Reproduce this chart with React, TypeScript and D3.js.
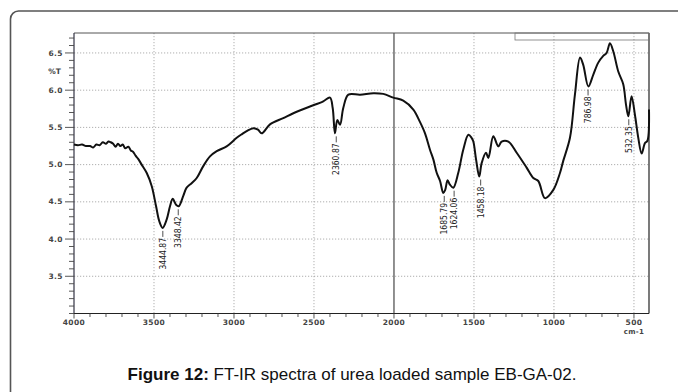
import React, { useEffect, useRef } from 'react';
import * as d3 from 'd3';

// traced spectrum (wavenumber in cm-1, %T)
const wavenumbers = [
  4000, 3975, 3950, 3925, 3900, 3880, 3860, 3840, 3820, 3800, 3785, 3770, 3755, 3740, 3725, 3710,
  3695, 3680, 3660, 3645, 3630, 3615, 3600, 3577, 3546, 3514, 3487, 3467, 3446, 3421, 3400, 3383,
  3362, 3346, 3317, 3296, 3265, 3233, 3192, 3150, 3108, 3046, 2983, 2950, 2921, 2879, 2850, 2827,
  2775, 2692, 2608, 2525, 2442, 2400, 2383, 2369, 2354, 2337, 2317, 2285, 2212, 2129, 2067, 2004,
  1942, 1879, 1837, 1806, 1775, 1754, 1733, 1712, 1692, 1680, 1665, 1650, 1629, 1598, 1567, 1535,
  1515, 1504, 1487, 1467, 1452, 1425, 1410, 1379, 1348, 1327, 1285, 1233, 1171, 1129, 1098, 1056,
  1004, 962, 942, 900, 869, 837, 817, 785, 754, 723, 692, 671, 650, 629, 598, 567, 550, 535, 515,
  494, 473, 452, 431, 416, 406,
];
const transmittance = [
  5.27, 5.26, 5.27, 5.25, 5.25, 5.23, 5.27, 5.26, 5.3, 5.28, 5.31, 5.3, 5.28, 5.24, 5.28, 5.25,
  5.27, 5.22, 5.24, 5.19, 5.17, 5.12, 5.08, 5.0, 4.89, 4.71, 4.44, 4.24, 4.15, 4.26, 4.44, 4.54,
  4.46, 4.44, 4.58, 4.69, 4.75, 4.82, 4.98, 5.11, 5.18, 5.245, 5.36, 5.41, 5.45, 5.49, 5.47, 5.42,
  5.54, 5.625, 5.71, 5.78, 5.85, 5.9, 5.76, 5.42, 5.6, 5.535, 5.76, 5.94, 5.94, 5.96, 5.95, 5.9,
  5.86, 5.74, 5.57, 5.42, 5.2, 5.07, 4.89, 4.78, 4.62, 4.66, 4.79, 4.73, 4.69, 4.89, 5.2, 5.4,
  5.36, 5.31, 5.07, 4.84, 5.02, 5.16, 5.09, 5.38, 5.245, 5.31, 5.31, 5.16, 4.96, 4.82, 4.78, 4.55,
  4.66, 4.89, 5.05, 5.36, 5.94, 6.44, 6.34, 6.05, 6.21, 6.37, 6.46, 6.5, 6.63, 6.52, 6.25, 6.08,
  5.81, 5.65, 5.92, 5.67, 5.36, 5.15, 5.29, 5.32, 5.74,
];

const peakWavenumbers = [3444.87, 3348.42, 2360.87, 1685.79, 1624.06, 1458.18, 786.98, 532.35];
const peakValues = [4.15, 4.44, 5.42, 4.62, 4.69, 4.84, 6.05, 5.65];

const yTickValues = [3.5, 4.0, 4.5, 5.0, 5.5, 6.0, 6.5];
const xTickValues = [4000, 3500, 3000, 2500, 2000, 1500, 1000, 500];

const W = 678;
const H = 392;
const plot = { left: 74, right: 649, top: 33, bottom: 313.5 };

const App = () => {
  const svgRef = useRef<SVGSVGElement>(null);

  useEffect(() => {
    const svg = d3.select(svgRef.current);
    svg.selectAll('*').remove();

    const x = d3.scaleLinear().domain([4000, 406]).range([plot.left, plot.right]);
    const y = d3.scaleLinear().domain([3.0, 6.768]).range([plot.bottom, plot.top]);

    // outer figure frame
    svg.append('rect')
      .attr('x', 10.5).attr('y', 11)
      .attr('width', 700).attr('height', 420)
      .attr('rx', 8)
      .attr('fill', 'none')
      .attr('stroke', '#555')
      .attr('stroke-width', 1.6);

    const g = svg.append('g');

    // dotted grid
    g.selectAll('.hgrid')
      .data(yTickValues)
      .enter().append('line')
      .attr('x1', plot.left).attr('x2', plot.right)
      .attr('y1', d => y(d)).attr('y2', d => y(d))
      .attr('stroke', '#9a9a9a')
      .attr('stroke-width', 0.8)
      .attr('stroke-dasharray', '1.2,1.8');

    g.selectAll('.vgrid')
      .data(xTickValues.filter(d => d !== 4000))
      .enter().append('line')
      .attr('x1', d => x(d)).attr('x2', d => x(d))
      .attr('y1', plot.top).attr('y2', plot.bottom)
      .attr('stroke', d => (d === 2000 ? '#555' : '#9a9a9a'))
      .attr('stroke-width', d => (d === 2000 ? 1.3 : 0.8))
      .attr('stroke-dasharray', d => (d === 2000 ? null : '1.2,1.8'));

    // plot frame
    g.append('line')
      .attr('x1', plot.left).attr('x2', plot.right)
      .attr('y1', plot.top).attr('y2', plot.top)
      .attr('stroke', '#555').attr('stroke-width', 1);
    g.append('line')
      .attr('x1', plot.right).attr('x2', plot.right)
      .attr('y1', plot.top).attr('y2', plot.bottom)
      .attr('stroke', '#333').attr('stroke-width', 1.3);
    g.append('line')
      .attr('x1', plot.left).attr('x2', plot.left)
      .attr('y1', plot.top).attr('y2', plot.bottom)
      .attr('stroke', '#334').attr('stroke-width', 1.2);
    g.append('line')
      .attr('x1', plot.left).attr('x2', plot.right)
      .attr('y1', plot.bottom).attr('y2', plot.bottom)
      .attr('stroke', '#222').attr('stroke-width', 1.2);

    // legend box in the top right corner
    g.append('rect')
      .attr('x', 515).attr('y', plot.top)
      .attr('width', plot.right - 515).attr('height', 7)
      .attr('fill', 'none')
      .attr('stroke', '#777')
      .attr('stroke-width', 0.8);

    // y ticks
    const yMinor = y.ticks(38);
    g.selectAll('.ytick')
      .data(yMinor)
      .enter().append('line')
      .attr('x1', d => (yTickValues.some(t => Math.abs(t - d) < 1e-6) ? plot.left - 9 : plot.left - 5))
      .attr('x2', plot.left)
      .attr('y1', d => y(d)).attr('y2', d => y(d))
      .attr('stroke', '#444').attr('stroke-width', 0.9);

    const tickFont = { family: '"DejaVu Sans", sans-serif', size: 7.5 };
    g.selectAll('.ylabel')
      .data(yTickValues)
      .enter().append('text')
      .attr('x', plot.left - 11)
      .attr('y', d => y(d))
      .attr('dy', '0.35em')
      .attr('text-anchor', 'end')
      .style('font-family', tickFont.family)
      .style('font-size', `${tickFont.size}px`)
      .style('font-weight', 'bold')
      .style('letter-spacing', '0.4px')
      .style('fill', '#444')
      .text(d => d.toFixed(1));

    g.append('text')
      .attr('x', plot.left - 13)
      .attr('y', y(6.25))
      .attr('dy', '0.35em')
      .attr('text-anchor', 'end')
      .style('font-family', tickFont.family)
      .style('font-size', `${tickFont.size}px`)
      .style('font-weight', 'bold')
      .style('fill', '#444')
      .text('%T');

    // x ticks
    const xMinor = x.ticks(36);
    g.selectAll('.xtick')
      .data(xMinor)
      .enter().append('line')
      .attr('x1', d => x(d)).attr('x2', d => x(d))
      .attr('y1', plot.bottom)
      .attr('y2', d => (d % 500 === 0 ? plot.bottom + 5 : plot.bottom + 3.5))
      .attr('stroke', '#444').attr('stroke-width', 0.9);

    g.selectAll('.xlabel')
      .data(xTickValues)
      .enter().append('text')
      .attr('x', d => x(d))
      .attr('y', plot.bottom + 11)
      .attr('text-anchor', 'middle')
      .style('font-family', tickFont.family)
      .style('font-size', `${tickFont.size}px`)
      .style('font-weight', 'bold')
      .style('letter-spacing', '0.4px')
      .style('fill', '#444')
      .text(d => String(d));

    g.append('text')
      .attr('x', x(500))
      .attr('y', plot.bottom + 20.5)
      .attr('text-anchor', 'middle')
      .style('font-family', tickFont.family)
      .style('font-size', '7px')
      .style('font-weight', 'bold')
      .style('letter-spacing', '0.3px')
      .style('fill', '#444')
      .text('cm-1');

    // spectrum
    const data = wavenumbers.map((w, i) => ({ w, t: transmittance[i] }));
    const line = d3.line<{ w: number; t: number }>()
      .x(d => x(d.w))
      .y(d => y(d.t))
      .curve(d3.curveCatmullRom.alpha(0.5));

    g.append('path')
      .datum(data)
      .attr('fill', 'none')
      .attr('stroke', '#111')
      .attr('stroke-width', 2)
      .attr('stroke-linejoin', 'round')
      .attr('d', line);

    // peak annotations
    const peaks = peakWavenumbers.map((w, i) => ({ w, t: peakValues[i] }));
    const pk = g.selectAll('.peak')
      .data(peaks)
      .enter().append('g')
      .attr('transform', d => `translate(${x(d.w)},${y(d.t) + 3})`);

    pk.append('line')
      .attr('x1', 0).attr('x2', 0)
      .attr('y1', 0).attr('y2', 6)
      .attr('stroke', '#222').attr('stroke-width', 0.8);

    pk.append('text')
      .attr('transform', 'translate(0,7) rotate(-90)')
      .attr('text-anchor', 'end')
      .attr('dy', '0.35em')
      .style('font-family', '"Liberation Sans Narrow", "DejaVu Sans Condensed", sans-serif')
      .style('font-size', '8.5px')
      .style('fill', '#222')
      .text(d => d.w.toFixed(2));

    // caption
    const cap = svg.append('text')
      .attr('x', 352)
      .attr('y', 380)
      .attr('text-anchor', 'middle')
      .style('font-family', '"Liberation Sans", Arial, sans-serif')
      .style('font-size', '17px')
      .style('fill', '#111');
    cap.append('tspan').style('font-weight', 'bold').text('Figure 12:');
    cap.append('tspan').text(' FT-IR spectra of urea loaded sample EB-GA-02.');
  }, []);

  return (
    <svg
      ref={svgRef}
      width={W}
      height={H}
      viewBox={`0 0 ${W} ${H}`}
      style={{ position: 'absolute', left: 0, top: 0, background: '#fff' }}
    />
  );
};

export default App;
